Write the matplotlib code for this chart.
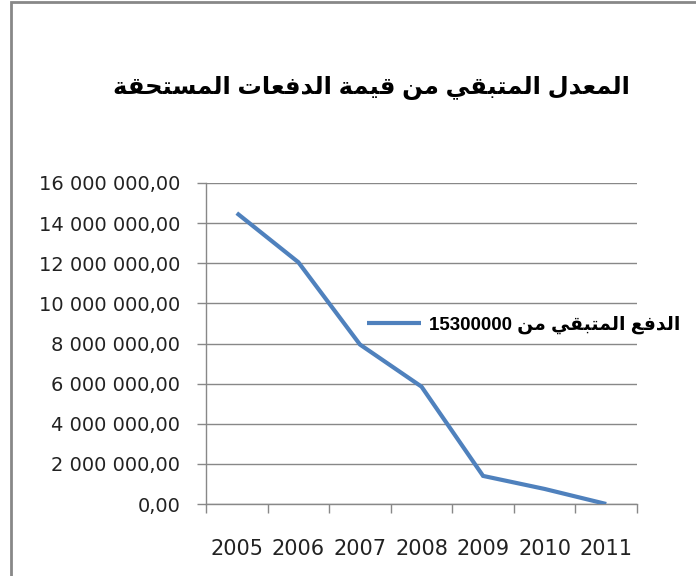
import re
import matplotlib
matplotlib.use("Agg")
import matplotlib.pyplot as plt
from matplotlib.ticker import FuncFormatter, FixedLocator
from matplotlib.patches import Rectangle

years = ["2005", "2006", "2007", "2008", "2009", "2010", "2011"]
remaining = [14500000, 12050000, 7950000, 5850000, 1400000, 750000, 0]
title_text = "المعدل المتبقي من قيمة الدفعات المستحقة"
series_name = "الدفع المتبقي من 15300000"

# matplotlib does no arabic shaping, so pick presentation forms by hand
# (isolated, final, initial, medial); None = letter does not join to the next one
FORMS = {
    "ا": (0xFE8D, 0xFE8E, None, None),
    "ب": (0xFE8F, 0xFE90, 0xFE91, 0xFE92),
    "ة": (0xFE93, 0xFE94, None, None),
    "ت": (0xFE95, 0xFE96, 0xFE97, 0xFE98),
    "ح": (0xFEA1, 0xFEA2, 0xFEA3, 0xFEA4),
    "د": (0xFEA9, 0xFEAA, None, None),
    "س": (0xFEB1, 0xFEB2, 0xFEB3, 0xFEB4),
    "ع": (0xFEC9, 0xFECA, 0xFECB, 0xFECC),
    "ف": (0xFED1, 0xFED2, 0xFED3, 0xFED4),
    "ق": (0xFED5, 0xFED6, 0xFED7, 0xFED8),
    "ل": (0xFEDD, 0xFEDE, 0xFEDF, 0xFEE0),
    "م": (0xFEE1, 0xFEE2, 0xFEE3, 0xFEE4),
    "ن": (0xFEE5, 0xFEE6, 0xFEE7, 0xFEE8),
    "ي": (0xFEF1, 0xFEF2, 0xFEF3, 0xFEF4),
}


def arabic(text):
    out = []
    for i, ch in enumerate(text):
        if ch not in FORMS:
            out.append(ch)
            continue
        prev = text[i - 1] if i > 0 else ""
        nxt = text[i + 1] if i + 1 < len(text) else ""
        iso, fin, ini, med = FORMS[ch]
        jp = prev in FORMS and FORMS[prev][2] is not None
        jn = nxt in FORMS and ini is not None
        if jp and jn:
            code = med
        elif jp:
            code = fin
        elif jn:
            code = ini
        else:
            code = iso
        out.append(chr(code))
    parts = re.findall(r"\d+|\D", "".join(out))
    return "".join(reversed(parts))


grey = "#888888"
fonts = ["Liberation Sans", "DejaVu Sans"]

fig = plt.figure(figsize=(6.96, 5.76), dpi=100)
ax = fig.add_axes([206 / 696, 1 - 504 / 576, (637 - 206) / 696, (504 - 183) / 576])

x = list(range(len(years)))
line, = ax.plot(x, remaining, color="#4F81BD", lw=3, solid_capstyle="butt",
                solid_joinstyle="miter", zorder=3)

ax.set_xlim(-0.5, len(years) - 0.5)
ax.set_ylim(0, 16000000)
ax.set_yticks(range(0, 16000001, 2000000))
ax.yaxis.set_major_formatter(FuncFormatter(
    lambda v, p: f"{v:,.2f}".replace(",", " ").replace(".", ",")))
ax.set_xticks(x)
ax.set_xticklabels(years)
ax.xaxis.set_minor_locator(FixedLocator([i - 0.5 for i in range(len(years) + 1)]))

ax.grid(axis="y", color=grey, lw=1)
ax.set_axisbelow(True)
for s in ["top", "right"]:
    ax.spines[s].set_visible(False)
for s in ["left", "bottom"]:
    ax.spines[s].set_color(grey)
    ax.spines[s].set_linewidth(1)

ax.tick_params(axis="y", length=6.5, color=grey, width=1, pad=12,
               labelsize=14, labelcolor="#222222")
ax.tick_params(axis="x", which="major", length=0, pad=25,
               labelsize=15, labelcolor="#222222")
ax.tick_params(axis="x", which="minor", length=6.5, color=grey, width=1)

fig.text(371 / 696, 1 - 88 / 576, arabic(title_text), ha="center", va="center",
         family=fonts, fontweight="bold", fontsize=17.5)

fig.legend([line], [arabic(series_name)], loc="center left",
           bbox_to_anchor=(367 / 696, 1 - 325 / 576), bbox_transform=fig.transFigure,
           frameon=False, borderpad=0, borderaxespad=0, handlelength=2.9,
           handletextpad=0.4, prop={"family": fonts, "weight": "bold", "size": 13.5})

fig.add_artist(Rectangle((11 / 696, -0.5), 2, 1.5 - 2 / 576, transform=fig.transFigure,
                         fill=False, edgecolor=grey, lw=2))

fig.savefig("out.png", dpi=100)
